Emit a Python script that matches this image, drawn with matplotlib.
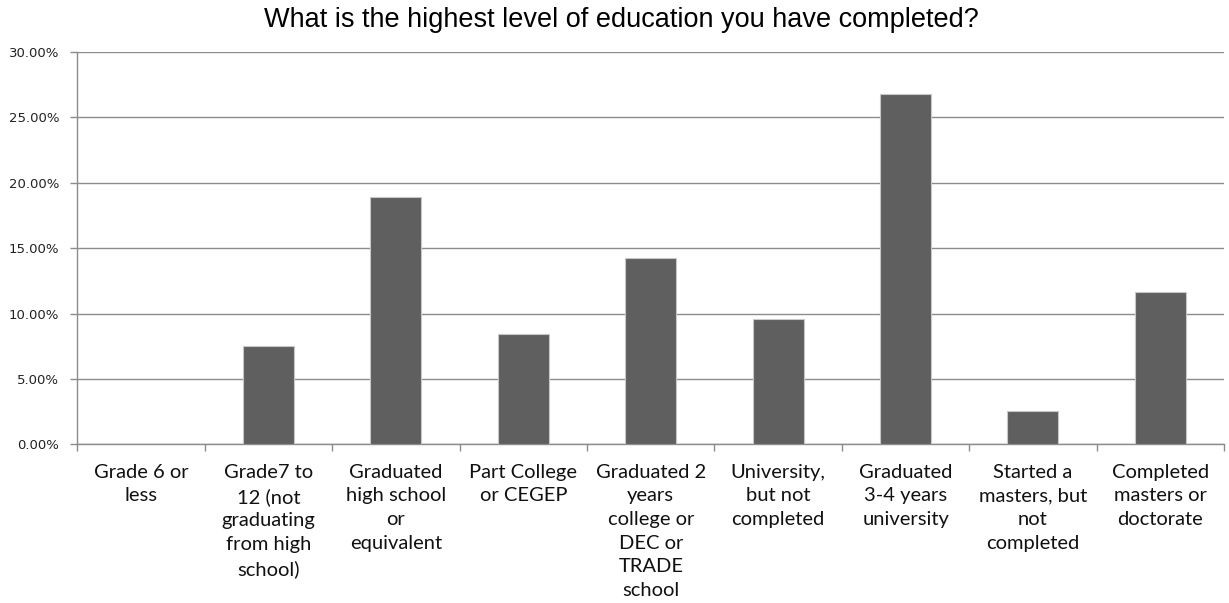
import numpy as np
import matplotlib.pyplot as plt
from matplotlib.ticker import FuncFormatter, MultipleLocator

# categories and percentages
categories = [
    "Grade 6 or\nless",
    "Grade7 to\n12 (not\ngraduating\nfrom high\nschool)",
    "Graduated\nhigh school\nor\nequivalent",
    "Part College\nor CEGEP",
    "Graduated 2\nyears\ncollege or\nDEC or\nTRADE\nschool",
    "University,\nbut not\ncompleted",
    "Graduated\n3-4 years\nuniversity",
    "Started a\nmasters, but\nnot\ncompleted",
    "Completed\nmasters or\ndoctorate",
]
values = [0.0, 7.54, 18.91, 8.43, 14.25, 9.58, 26.77, 2.55, 11.65]

title = "What is the highest level of education you have completed?"

fig = plt.figure(figsize=(12.29, 6.03), dpi=100)
ax = fig.add_axes([0.063, 0.263, 0.933, 0.651])

x = np.arange(len(categories))
ax.bar(x, values, width=0.4, color="#5f5f5f", edgecolor="#c8c8c8", linewidth=0.8, zorder=3)

# y axis
ax.set_ylim(0, 30)
ax.yaxis.set_major_locator(MultipleLocator(5))
ax.yaxis.set_major_formatter(FuncFormatter(lambda v, p: f"{v:.2f}%"))
ax.grid(axis="y", color="#8c8c8c", linewidth=1.0, zorder=0)
for lab in ax.get_yticklabels():
    lab.set_fontfamily("DejaVu Sans")
    lab.set_fontsize(9.5)
    lab.set_color("#222222")
ax.tick_params(axis="y", length=5, width=1, color="#8c8c8c", pad=8)

# x axis: labels at bar centres, tick marks at category boundaries
ax.set_xlim(-0.5, len(categories) - 0.5)
ax.set_xticks(x)
ax.set_xticklabels(categories, fontfamily="Lato", fontsize=14.5, linespacing=1.47, color="#111111")
ax.tick_params(axis="x", which="major", length=0, pad=14)
ax.set_xticks(np.arange(-0.5, len(categories), 1.0), minor=True)
ax.tick_params(axis="x", which="minor", length=5, width=1, color="#8c8c8c")

for side in ["top", "right"]:
    ax.spines[side].set_visible(False)
for side in ["left", "bottom"]:
    ax.spines[side].set_color("#8c8c8c")
    ax.spines[side].set_linewidth(1.0)

fig.text(0.506, 0.956, title, ha="center", va="baseline", fontfamily="Liberation Sans", fontsize=19.5, color="#000000")

fig.savefig("out.png", dpi=100, facecolor="white")
